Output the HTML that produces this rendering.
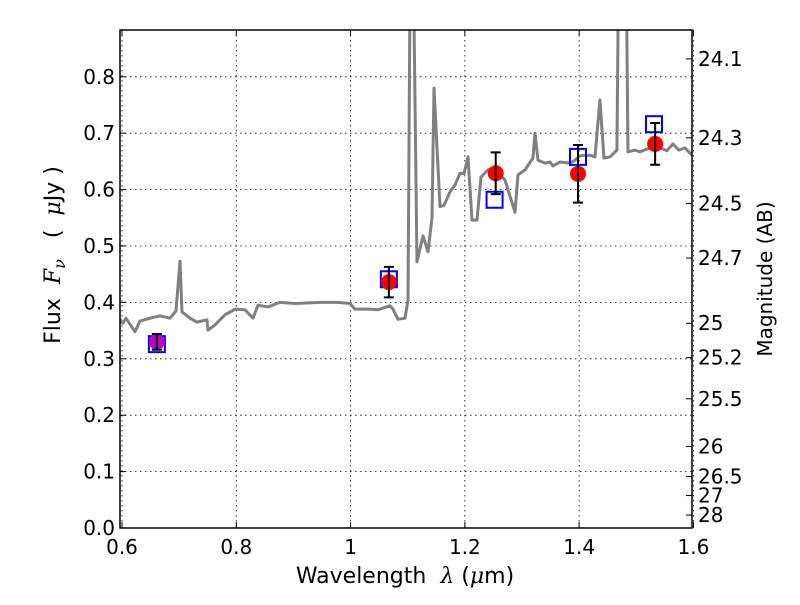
<!DOCTYPE html>
<html><head><meta charset="utf-8"><style>
body{margin:0;background:#fff;}
svg{font-family:"DejaVu Sans","Liberation Sans",sans-serif;}
.m{font-family:"DejaVu Serif","Liberation Serif",serif;font-style:italic;}
</style></head><body>
<svg id="chart" width="800" height="600" xmlns="http://www.w3.org/2000/svg">
<rect width="800" height="600" fill="#fff"/>
<defs><clipPath id="clip"><rect x="120" y="30" width="572" height="498"/></clipPath></defs>
<g id="grid"></g>
<g id="spec" clip-path="url(#clip)"></g>
<g id="phot"></g>
<g id="axes"></g>
<text x="405" y="583" font-size="22" text-anchor="middle">Wavelength&#160;&#160;<tspan class="m">λ</tspan> (<tspan class="m">μ</tspan>m)</text>
<text transform="translate(60,255) rotate(-90)" font-size="22" text-anchor="middle">Flux&#160;&#160;<tspan class="m">F</tspan><tspan class="m" font-size="16" dy="5">ν</tspan><tspan dy="-5">&#160;&#160;&#160;(&#160;&#160;<tspan class="m">μ</tspan>Jy&#160;)</tspan></text>
<text transform="translate(772,279) rotate(-90)" font-size="20" text-anchor="middle">Magnitude (AB)</text>
</svg>
<script>
const specW=[0.5965,0.6017,0.607,0.6227,0.6315,0.649,0.6665,0.684,0.6945,0.7015,0.705,0.719,0.7312,0.7487,0.7505,0.7627,0.7802,0.7977,0.8152,0.8292,0.838,0.8555,0.8765,0.9027,0.9465,0.978,0.999,1.0077,1.0305,1.048,1.069,1.0742,1.083,1.0952,1.1005,1.104,1.1092,1.1162,1.1267,1.1355,1.1425,1.146,1.1565,1.1635,1.174,1.1827,1.1915,1.1985,1.2055,1.2125,1.2212,1.2282,1.2405,1.2527,1.2615,1.2702,1.2877,1.293,1.3052,1.3192,1.3227,1.328,1.3402,1.349,1.3542,1.3665,1.384,1.3927,1.4014,1.4189,1.4277,1.4364,1.4434,1.4539,1.4661,1.4696,1.4819,1.4854,1.4976,1.5064,1.5239,1.5414,1.5536,1.5641,1.5746,1.585,1.5975];
const specF=[0.37,0.363,0.372,0.348,0.367,0.372,0.376,0.372,0.385,0.473,0.383,0.372,0.365,0.369,0.351,0.36,0.378,0.388,0.387,0.372,0.395,0.392,0.4,0.398,0.4,0.4,0.398,0.388,0.388,0.387,0.394,0.388,0.37,0.372,0.404,0.95,1.05,0.472,0.518,0.49,0.55,0.78,0.57,0.572,0.596,0.608,0.629,0.628,0.658,0.546,0.546,0.622,0.635,0.638,0.626,0.617,0.56,0.626,0.635,0.656,0.70,0.652,0.647,0.649,0.642,0.649,0.647,0.652,0.66,0.661,0.658,0.759,0.656,0.658,0.67,1.05,1.05,0.667,0.67,0.667,0.674,0.674,0.669,0.681,0.67,0.674,0.661];
const photW=[0.661,1.067,1.254,1.398,1.533];
const photF=[0.33,0.436,0.629,0.628,0.681];
const photErr=[0.014,0.027,0.037,0.051,0.037];
const modelW=[0.661,1.067,1.252,1.398,1.531];
const modelF=[0.326,0.441,0.582,0.658,0.716];
const xTicks=[0.6,0.8,1.0,1.2,1.4,1.6];
const xTickLabels=["0.6","0.8","1","1.2","1.4","1.6"];
const yTicks=[0,0.1,0.2,0.3,0.4,0.5,0.6,0.7,0.8];
const yTickLabels=["0.0","0.1","0.2","0.3","0.4","0.5","0.6","0.7","0.8"];
const magTicks=[24.1,24.3,24.5,24.7,25,25.2,25.5,26,26.5,27,28];
const X0=0.5965,X1=1.5975,Y0=0,Y1=0.883;
const L=120,R=692,T=30,B=528;
const sx=w=>L+(w-X0)/(X1-X0)*(R-L);
const sy=f=>B-(f-Y0)/(Y1-Y0)*(B-T);
const NS="http://www.w3.org/2000/svg";
function mk(tag,attrs,parent){const e=document.createElementNS(NS,tag);for(const k in attrs)e.setAttribute(k,attrs[k]);document.getElementById(parent).appendChild(e);return e;}
xTicks.forEach(t=>{const e=mk('line',{x1:sx(t),x2:sx(t),y1:T,y2:B,stroke:'#000','stroke-width':0.8,'stroke-dasharray':'1.5,3.5'},'grid');

});
yTicks.forEach(t=>{const e=mk('line',{x1:L,x2:R,y1:sy(t),y2:sy(t),stroke:'#000','stroke-width':0.8,'stroke-dasharray':'1.5,3.5'},'grid');

});
const pl=mk('polyline',{points:specW.map((w,i)=>sx(w)+','+sy(specF[i])).join(' '),fill:'none',stroke:'#808080','stroke-width':3,'stroke-linejoin':'round'},'spec');


modelW.forEach((w,i)=>{const s=mk('rect',{x:sx(w)-8,y:sy(modelF[i])-8,width:16,height:16,fill:'none',stroke:'#0000ff','stroke-width':2},'phot');

});
photW.forEach((w,i)=>{const x=sx(w),y=sy(photF[i]);
const c=mk('circle',{cx:x,cy:y,r:8,fill:i===0?'#bf00bf':'#ff0000'},'phot');


const y1=sy(photF[i]+photErr[i]),y2=sy(photF[i]-photErr[i]);
const eb=mk('path',{d:`M${x},${y1}V${y2}M${x-5},${y1}H${x+5}M${x-5},${y2}H${x+5}`,stroke:'#000','stroke-width':2,fill:'none'},'phot');

});
const fr=mk('rect',{x:L,y:T,width:R-L,height:B-T,fill:'none',stroke:'#000','stroke-width':1.5},'axes');


xTicks.forEach((t,i)=>{const x=sx(t);
mk('line',{x1:x,x2:x,y1:B,y2:B-6,stroke:'#000'},'axes');mk('line',{x1:x,x2:x,y1:T,y2:T+6,stroke:'#000'},'axes');
const tx=mk('text',{x:x,y:B+26,'font-size':20,'text-anchor':'middle'},'axes');tx.textContent=xTickLabels[i];

});
yTicks.forEach((t,i)=>{const y=sy(t);
mk('line',{x1:L,x2:L+6,y1:y,y2:y,stroke:'#000'},'axes');
const tx=mk('text',{x:L-5,y:y+7,'font-size':20,'text-anchor':'end'},'axes');tx.textContent=yTickLabels[i];

});
magTicks.forEach(m=>{const y=sy(Math.pow(10,-(m-23.9)/2.5));
mk('line',{x1:R,x2:R-6,y1:y,y2:y,stroke:'#000'},'axes');
const tx=mk('text',{x:R+6,y:y+7,'font-size':20},'axes');tx.textContent=String(m);

});
</script>
</body></html>
